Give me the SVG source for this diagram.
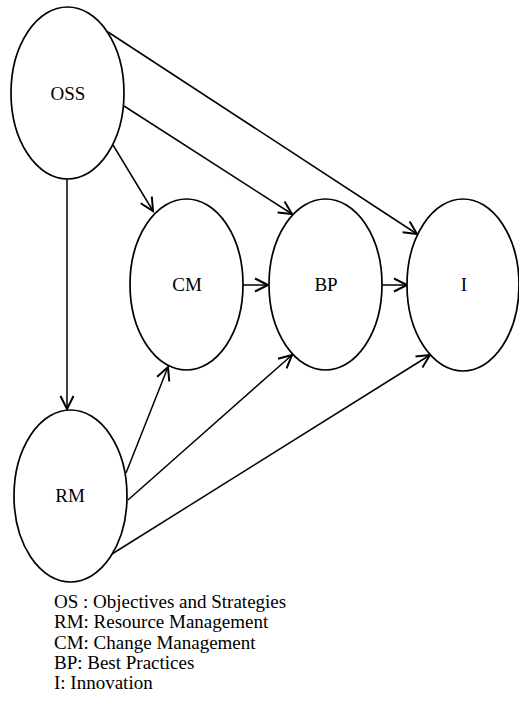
<svg xmlns="http://www.w3.org/2000/svg" width="519" height="702" viewBox="0 0 519 702">
<style>
.node ellipse{fill:#fff;stroke:#000;stroke-width:1.7}
.lbl{font-family:"Liberation Serif","Times New Roman",serif;font-size:19px;fill:#000;text-anchor:middle}
.leg{font-family:"Liberation Serif","Times New Roman",serif;font-size:19px;fill:#000}
.conn line{stroke:#000;stroke-width:1.5;fill:none}
</style>
<defs>
<marker id="arr" markerWidth="20" markerHeight="20" refX="16" refY="10" orient="auto" markerUnits="userSpaceOnUse">
<path d="M3,3.5 L16,10 L3,16.5" fill="none" stroke="#000" stroke-width="2"/>
</marker>
</defs>
<rect width="519" height="702" fill="#fff"/>
<g id="connectors" class="conn">
<line x1="113" y1="145" x2="153" y2="211" marker-end="url(#arr)"/>
<line x1="124" y1="106" x2="292" y2="214" marker-end="url(#arr)"/>
<line x1="108" y1="32" x2="417" y2="234" marker-end="url(#arr)"/>
<line x1="67" y1="179" x2="67" y2="409" marker-end="url(#arr)"/>
<line x1="243" y1="285" x2="268" y2="285" marker-end="url(#arr)"/>
<line x1="382" y1="285" x2="407" y2="285" marker-end="url(#arr)"/>
<line x1="126" y1="473" x2="168" y2="367" marker-end="url(#arr)"/>
<line x1="128" y1="500" x2="292" y2="355" marker-end="url(#arr)"/>
<line x1="112" y1="554" x2="430" y2="355" marker-end="url(#arr)"/>
</g>
<g id="OSS" class="node"><ellipse cx="67.5" cy="93" rx="56.5" ry="86"/><text class="lbl" x="68" y="100">OSS</text></g>
<g id="CM" class="node"><ellipse cx="186.5" cy="284.5" rx="56.5" ry="85.5"/><text class="lbl" x="187" y="291">CM</text></g>
<g id="BP" class="node"><ellipse cx="325.5" cy="284.5" rx="56.5" ry="85.5"/><text class="lbl" x="326" y="291">BP</text></g>
<g id="I" class="node"><ellipse cx="463" cy="285" rx="56" ry="86"/><text class="lbl" x="464" y="291">I</text></g>
<g id="RM" class="node"><ellipse cx="70.5" cy="496" rx="56.5" ry="86"/><text class="lbl" x="70" y="502">RM</text></g>
<g id="legend">
<text class="leg" x="54" y="608">OS : Objectives and Strategies</text>
<text class="leg" x="54" y="628">RM: Resource Management</text>
<text class="leg" x="54" y="649">CM: Change Management</text>
<text class="leg" x="54" y="669">BP: Best Practices</text>
<text class="leg" x="54" y="689">I: Innovation</text>
</g>
</svg>
